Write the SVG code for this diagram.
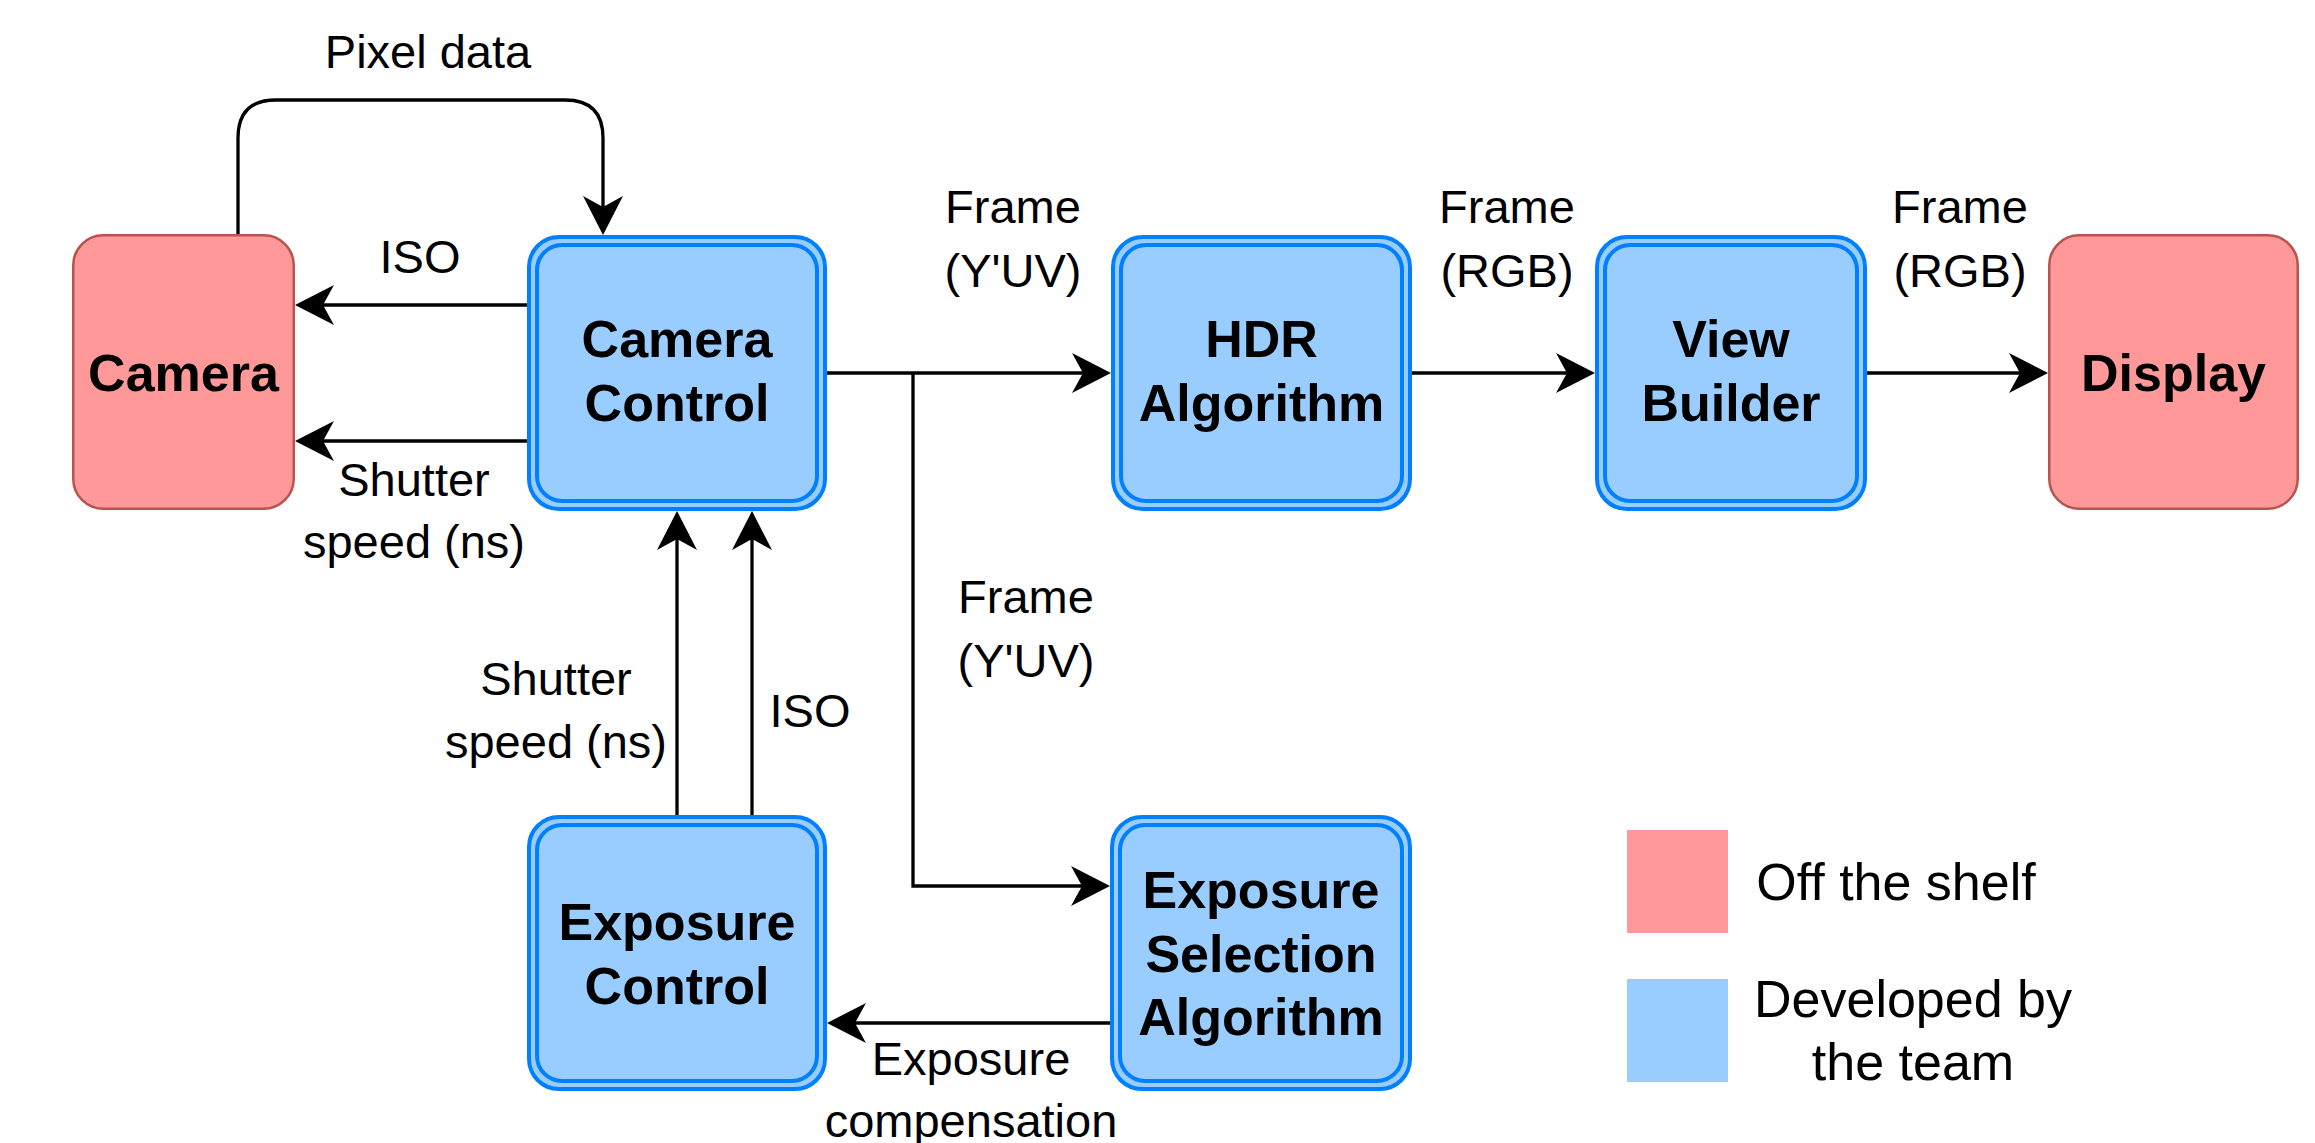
<svg xmlns="http://www.w3.org/2000/svg" width="2315" height="1143" viewBox="0 0 2315 1143">
  <style>
    .ext { fill: #FF9999; stroke: #B85450; stroke-width: 2.5; }
    .own { fill: #99CCFF; stroke: #007FFF; stroke-width: 4; }
    .own-inner { fill: none; stroke: #007FFF; stroke-width: 4; }
    .title { font-family: "Liberation Sans", Arial, sans-serif; font-weight: bold; font-size: 52px; fill: #000; text-anchor: middle; }
    .label { font-family: "Liberation Sans", Arial, sans-serif; font-size: 47px; fill: #000; text-anchor: middle; }
    .legend { font-family: "Liberation Sans", Arial, sans-serif; font-size: 52px; fill: #000; text-anchor: middle; }
    .edge { fill: none; stroke: #000; stroke-width: 3.3; marker-end: url(#arrow); }
  </style>
  <defs>
    <marker id="arrow" markerUnits="userSpaceOnUse" markerWidth="40" markerHeight="42" viewBox="0 -21 40 42" refX="30" refY="0" orient="auto">
      <path d="M40,0 L1,-20 L12,0 L1,20 Z" fill="#000"/>
    </marker>
  </defs>
  <rect width="2315" height="1143" fill="#fff"/>

  <!-- connectors -->
  <g id="connectors">
    <!-- pixel data loop: camera -> camera control -->
    <path class="edge" d="M238,234 L238,138 Q238,100 276,100 L565,100 Q603,100 603,138 L603,225"/>
    <!-- camera control -> camera -->
    <path class="edge" d="M527,305 L305,305"/>
    <path class="edge" d="M527,441 L305,441"/>
    <!-- frame pipeline -->
    <path class="edge" d="M827,373 L1101,373"/>
    <path class="edge" d="M1412,373 L1585,373"/>
    <path class="edge" d="M1867,373 L2038,373"/>
    <!-- branch to exposure selection -->
    <path class="edge" d="M913,373 L913,886 L1100,886"/>
    <!-- exposure selection -> exposure control -->
    <path class="edge" d="M1110,1023 L837,1023"/>
    <!-- exposure control -> camera control -->
    <path class="edge" d="M677,815 L677,521"/>
    <path class="edge" d="M752,815 L752,521"/>
  </g>

  <!-- edge labels -->
  <g id="edge-labels">
    <text class="label" x="428" y="68">Pixel data</text>
    <text class="label" x="420" y="273">ISO</text>
    <text class="label" x="414" y="496">Shutter</text>
    <text class="label" x="414" y="558">speed (ns)</text>
    <text class="label" x="1013" y="223">Frame</text>
    <text class="label" x="1013" y="287">(Y'UV)</text>
    <text class="label" x="1507" y="223">Frame</text>
    <text class="label" x="1507" y="287">(RGB)</text>
    <text class="label" x="1960" y="223">Frame</text>
    <text class="label" x="1960" y="287">(RGB)</text>
    <text class="label" x="1026" y="613">Frame</text>
    <text class="label" x="1026" y="677">(Y'UV)</text>
    <text class="label" x="556" y="695">Shutter</text>
    <text class="label" x="556" y="758">speed (ns)</text>
    <text class="label" x="810" y="727">ISO</text>
    <text class="label" x="971" y="1075">Exposure</text>
    <text class="label" x="971" y="1137">compensation</text>
  </g>

  <g id="camera">
    <rect class="ext" x="73.25" y="235.25" width="220.5" height="273.5" rx="30"/>
    <text class="title" x="183.5" y="391">Camera</text>
  </g>

  <g id="camera-control">
    <rect class="own" x="529" y="237" width="296" height="272" rx="30"/>
    <rect class="own-inner" x="537" y="245" width="280" height="256" rx="25"/>
    <text class="title" x="677" y="357">Camera</text>
    <text class="title" x="677" y="421">Control</text>
  </g>

  <g id="hdr-algorithm">
    <rect class="own" x="1113" y="237" width="297" height="272" rx="30"/>
    <rect class="own-inner" x="1121" y="245" width="281" height="256" rx="25"/>
    <text class="title" x="1261.5" y="357">HDR</text>
    <text class="title" x="1261.5" y="421">Algorithm</text>
  </g>

  <g id="view-builder">
    <rect class="own" x="1597" y="237" width="268" height="272" rx="30"/>
    <rect class="own-inner" x="1605" y="245" width="252" height="256" rx="25"/>
    <text class="title" x="1731" y="357">View</text>
    <text class="title" x="1731" y="421">Builder</text>
  </g>

  <g id="display">
    <rect class="ext" x="2049.25" y="235.25" width="248.5" height="273.5" rx="30"/>
    <text class="title" x="2173.5" y="391">Display</text>
  </g>

  <g id="exposure-control">
    <rect class="own" x="529" y="817" width="296" height="272" rx="30"/>
    <rect class="own-inner" x="537" y="825" width="280" height="256" rx="25"/>
    <text class="title" x="677" y="940">Exposure</text>
    <text class="title" x="677" y="1004">Control</text>
  </g>

  <g id="exposure-selection">
    <rect class="own" x="1112" y="817" width="298" height="272" rx="30"/>
    <rect class="own-inner" x="1120" y="825" width="282" height="256" rx="25"/>
    <text class="title" x="1261" y="908">Exposure</text>
    <text class="title" x="1261" y="972">Selection</text>
    <text class="title" x="1261" y="1035">Algorithm</text>
  </g>

  <g id="legend">
    <rect x="1627" y="830" width="101" height="103" fill="#FF9999"/>
    <text class="legend" x="1896" y="900">Off the shelf</text>
    <rect x="1627" y="979" width="101" height="103" fill="#99CCFF"/>
    <text class="legend" x="1913" y="1017">Developed by</text>
    <text class="legend" x="1913" y="1080">the team</text>
  </g>
</svg>
